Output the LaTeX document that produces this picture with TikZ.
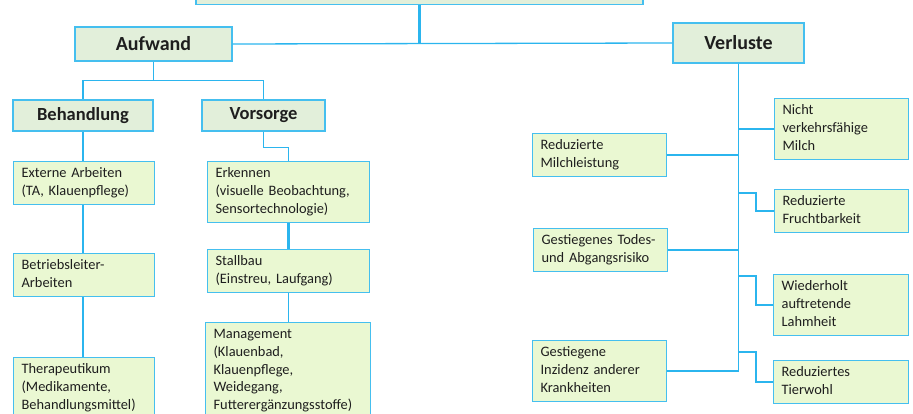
\documentclass[tikz,border=0pt]{standalone}
\usepackage{fontspec}
\setmainfont{Carlito}
\usepackage{tikz}
\definecolor{linie}{HTML}{2BB5EE}
\definecolor{rand}{HTML}{45BFEF}
\definecolor{kopf}{HTML}{E2EFDA}
\definecolor{feld}{HTML}{EAF8D2}
\definecolor{schrift}{HTML}{1E1E1E}

\begin{document}
\begin{tikzpicture}[x=1pt,y=-1pt]
        \tikzset{Kopf/.style={draw=rand, line width=1.2pt, fill=kopf, text=schrift,
                font=\bfseries\fontsize{20}{24}\selectfont, inner sep=0pt}}
        \tikzset{Unterkopf/.style={Kopf, font=\bfseries\fontsize{18.5}{22}\selectfont}}
        \tikzset{Feld/.style={draw=rand, line width=1.2pt, fill=feld, text=schrift,
                font=\fontsize{14.4}{17.7}\selectfont, align=left, anchor=north west,
                inner xsep=8pt, inner ysep=3.8pt,
                execute at begin node=\strut, execute at end node=\strut}}
        \tikzset{Linie/.style={draw=linie, line width=1.3pt}}
        \tikzset{Dick/.style={draw=linie, line width=2.6pt}}
        \useasboundingbox (0,0) rectangle (913,414);
        \node[Kopf, minimum width=447pt, minimum height=45pt, anchor=south] (titel) at (419.5,5) {};
        \node[Kopf, minimum width=157pt, minimum height=34pt] (aufwand) at (153.5,44) {Aufwand};
        \node[Kopf, minimum width=131pt, minimum height=40pt] (verluste) at (738.5,43) {Verluste};
        \node[Unterkopf, minimum width=140pt, minimum height=31pt] (behandlung) at (83,115.5) {Behandlung};
        \node[Unterkopf, minimum width=123pt, minimum height=31pt] (vorsorge) at (263.5,115.5) {Vorsorge};
        \node[Feld, text width=125pt] (externe) at (13,161) {Externe Arbeiten\\(TA, Klauenpflege)};
        \node[Feld, text width=125pt] (betrieb) at (13,253) {Betriebsleiter-\\Arbeiten};
        \node[Feld, text width=125pt] (therapie) at (13,357) {Therapeutikum\\(Medikamente,\\Behandlungsmittel)};
        \node[Feld, text width=146pt] (erkennen) at (207,161) {Erkennen\\(visuelle Beobachtung,\\Sensortechnologie)};
        \node[Feld, text width=146pt] (stallbau) at (207,249) {Stallbau\\(Einstreu, Laufgang)};
        \node[Feld, text width=149pt] (management) at (205,322) {Management\\(Klauenbad,\\Klauenpflege,\\Weidegang,\\Futterergänzungsstoffe)};
        \node[Feld, text width=118pt] (milch) at (532,133) {Reduzierte\\Milchleistung};
        \node[Feld, text width=118pt] (todes) at (533,228) {Gestiegenes Todes-\\und Abgangsrisiko};
        \node[Feld, text width=118pt] (inzidenz) at (532,340) {Gestiegene\\Inzidenz anderer\\Krankheiten};
        \node[Feld, text width=118pt] (nicht) at (774,98) {Nicht\\verkehrsfähige\\Milch};
        \node[Feld, text width=118pt] (frucht) at (774,189) {Reduzierte\\Fruchtbarkeit};
        \node[Feld, text width=119pt] (lahmheit) at (773,274) {Wiederholt\\auftretende\\Lahmheit};
        \node[Feld, text width=119pt] (tierwohl) at (773,360) {Reduziertes\\Tierwohl};
        \draw[Dick] (titel.south) -- (titel.south |- aufwand.east);
        \draw[Linie] (aufwand.east) -- (verluste.west);
        \draw[Linie] (aufwand.south) -- ++(0,19) -| (behandlung.north);
        \draw[Linie] (aufwand.south) ++(0,19) -| (vorsorge.north);
        \draw[Dick] (behandlung.south) -- (behandlung.south |- externe.north);
        \draw[Linie] (externe.south -| behandlung.south) -- (behandlung.south |- betrieb.north);
        \draw[Dick] (betrieb.south -| behandlung.south) -- (behandlung.south |- therapie.north);
        \draw[Linie] (vorsorge.south) -- ++(0,16) -| (erkennen.north);
        \draw[Dick] (erkennen.south) -- (stallbau.north);
        \draw[Linie] (stallbau.south) -- (stallbau.south |- management.north);
        \draw[Linie] (verluste.south) -- (verluste.south |- inzidenz.east);
        \draw[Linie] (milch.east) -- (milch.east -| verluste.south);
        \draw[Linie] (todes.east) -- (todes.east -| verluste.south);
        \draw[Linie] (inzidenz.east) -- (inzidenz.east -| verluste.south);
        \draw[Linie] (nicht.west) -- (nicht.west -| verluste.south);
        \draw[Linie] (frucht.west) -- ++(-18,0) |- ++(-18,-18);
        \draw[Linie] (lahmheit.west) -- ++(-17,0) |- ++(-17.5,-29);
        \draw[Linie] (tierwohl.west) -- ++(-17,0) |- ++(-17.5,-30);
\end{tikzpicture}
\end{document}
